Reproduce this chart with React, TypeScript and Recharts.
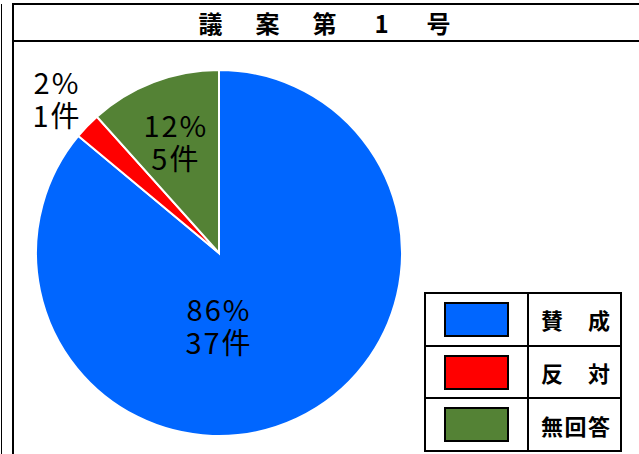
import React from "react";
import { PieChart, Pie, Cell } from "recharts";

const categories = ["賛　成", "反　対", "無回答"];
const counts = [37, 1, 5];
const colors = ["#0066FF", "#FF0000", "#548235"];
const titleChars = ["議", "案", "第", "1", "号"];

const data = categories.map((name, i) => ({ name, value: counts[i] }));

const RAD = Math.PI / 180;
const FONT = "'Noto Sans CJK JP', 'Noto Sans', sans-serif";

// where Excel put each label: radius factor along the slice mid angle
const labelRadius = [0, 1.23, 0.66];

const renderLabel = (props: any) => {
  const { cx, cy, midAngle, outerRadius, percent, value, index } = props;
  let x = cx + outerRadius * labelRadius[index] * Math.cos(-midAngle * RAD);
  let y = cy + outerRadius * labelRadius[index] * Math.sin(-midAngle * RAD);
  if (index === 0) {
    // best fit: below the centre
    x = cx;
    y = cy + 71;
  }
  return (
    <text
      x={x}
      y={y}
      textAnchor="middle"
      fill="#000"
      fontSize={29}
      fontFamily={FONT}
      letterSpacing={2}
    >
      <tspan x={x} y={y - 16} dominantBaseline="central">
        {Math.round(percent * 100)}%
      </tspan>
      <tspan x={x} y={y + 17} dominantBaseline="central">
        {value}件
      </tspan>
    </text>
  );
};

const line = "#000";

const App = () => {
  return (
    <div
      style={{
        position: "absolute",
        left: 0,
        top: 0,
        width: 639,
        height: 454,
        background: "#fff",
        overflow: "hidden",
        fontFamily: FONT,
      }}
    >
      {/* frame lines */}
      <div style={{ position: "absolute", left: 1, top: 4, width: 1, height: 450, background: line }} />
      <div style={{ position: "absolute", left: 12, top: 4, width: 2, height: 450, background: line }} />
      <div style={{ position: "absolute", left: 12, top: 3, width: 627, height: 2, background: line }} />
      <div style={{ position: "absolute", left: 12, top: 40, width: 627, height: 2, background: line }} />
      <div
        style={{
          position: "absolute",
          left: 182,
          top: 5,
          height: 35,
          display: "flex",
          alignItems: "center",
          fontSize: 24,
          fontWeight: 700,
        }}
      >
        {titleChars.map((ch, k) => (
          <span key={k} style={{ width: 57, textAlign: "center" }}>
            {ch}
          </span>
        ))}
      </div>

      <div style={{ position: "absolute", left: 0, top: 0 }}>
        <PieChart width={639} height={454} margin={{ top: 0, right: 0, bottom: 0, left: 0 }}>
          <Pie
            data={data}
            dataKey="value"
            nameKey="name"
            cx={219}
            cy={253}
            outerRadius={183}
            startAngle={90}
            endAngle={-270}
            stroke="#fff"
            strokeWidth={2}
            label={renderLabel}
            labelLine={false}
            isAnimationActive={false}
          >
            {data.map((d, i) => (
              <Cell key={d.name} fill={colors[i]} />
            ))}
          </Pie>
        </PieChart>
      </div>

      {/* legend table */}
      <div
        style={{
          position: "absolute",
          left: 424,
          top: 292,
          width: 198,
          height: 160,
          border: "2px solid #000",
          boxSizing: "border-box",
          display: "flex",
          flexDirection: "column",
        }}
      >
        {categories.map((c, i) => (
          <div
            key={c}
            style={{
              flex: 1,
              display: "flex",
              borderTop: i === 0 ? "none" : "2px solid #000",
            }}
          >
            <div
              style={{
                width: 101,
                borderRight: "2px solid #000",
                display: "flex",
                alignItems: "center",
                justifyContent: "center",
              }}
            >
              <div
                style={{
                  width: 65,
                  height: 35,
                  background: colors[i],
                  border: "2px solid #000",
                  boxSizing: "border-box",
                }}
              />
            </div>
            <div
              style={{
                flex: 1,
                display: "flex",
                alignItems: "center",
                justifyContent: "space-between",
                padding: "0 10px 0 12px",
                fontSize: 22,
                fontWeight: 700,
              }}
            >
              {c.replace("　", "").split("").map((ch, k) => (
                <span key={k}>{ch}</span>
              ))}
            </div>
          </div>
        ))}
      </div>
    </div>
  );
};

export default App;
